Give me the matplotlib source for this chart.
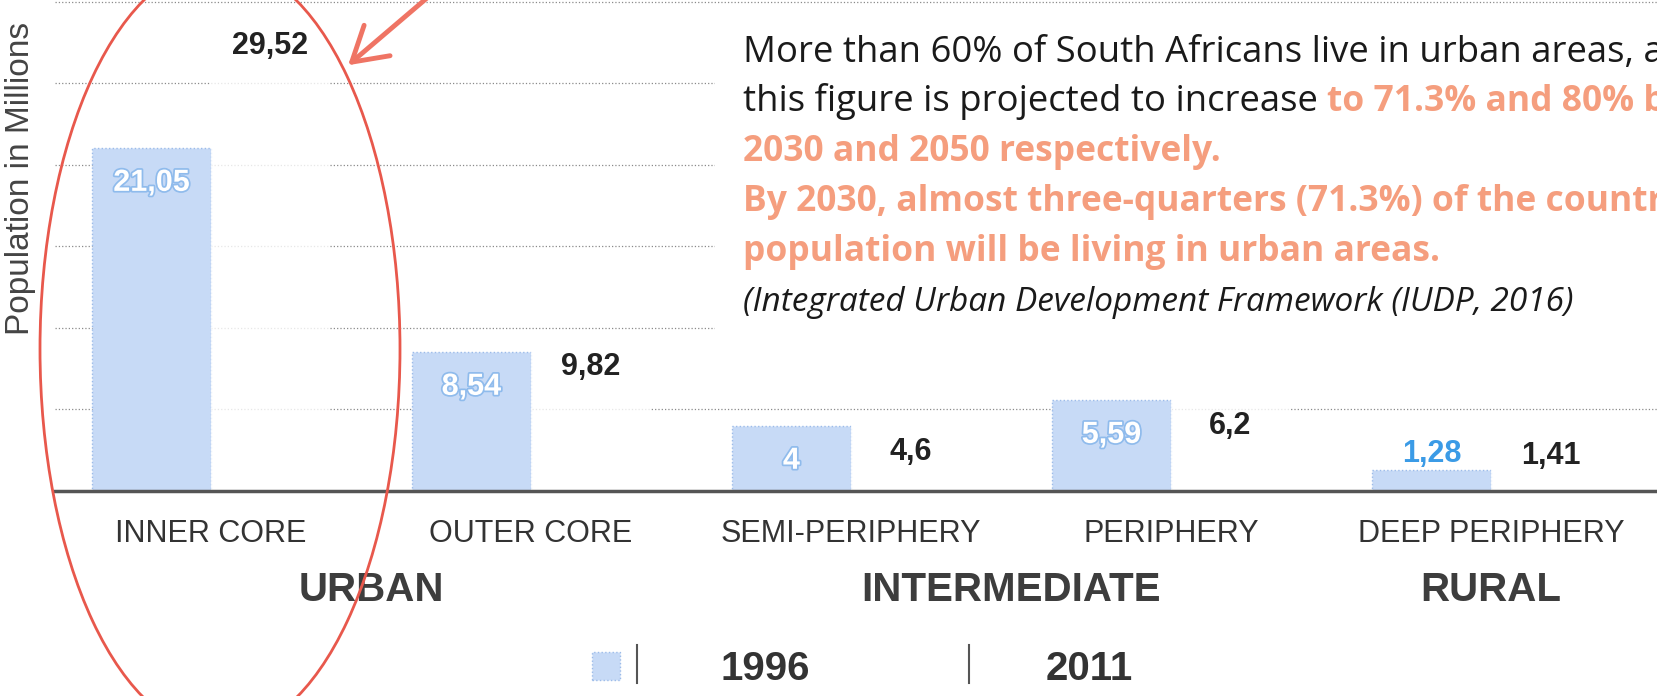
import matplotlib
matplotlib.use("Agg")
import matplotlib.pyplot as plt
import matplotlib.patheffects as pe
from matplotlib.patches import Ellipse, Rectangle, FancyArrowPatch
from matplotlib.lines import Line2D
from matplotlib.transforms import blended_transform_factory

categories = ['INNER CORE', 'OUTER CORE', 'SEMI-PERIPHERY', 'PERIPHERY', 'DEEP PERIPHERY']
pop_1996 = [21.05, 8.54, 4, 5.59, 1.28]
pop_2011 = [29.52, 9.82, 4.6, 6.2, 1.41]
years = ['1996', '2011']
zones = ['URBAN', 'INTERMEDIATE', 'RURAL']
zone_x = [0.5, 2.5, 4]

BLUE = '#c7daf6'
SALMON = '#f59e7e'
W, H = 1657, 696


def fx(px):
    return px / W


def fy(py):
    return 1 - py / H


def fmt(v):
    return f"{v:g}".replace('.', ',')


plt.rcParams['font.family'] = ['Liberation Sans', 'DejaVu Sans']

fig = plt.figure(figsize=(W / 100, H / 100), dpi=100)
ax = fig.add_axes([fx(55), fy(491), 1 - fx(55), 491 / H])

x = list(range(len(categories)))
width = 0.372
bars96 = ax.bar([i - width / 2 for i in x], pop_1996, width, color=BLUE,
                edgecolor='#9cbbe9', linestyle=':', linewidth=1, zorder=3)
# the 2011 bars are blank in the original, only their labels show
bars11 = ax.bar([i + width / 2 for i in x], pop_2011, width, color='white', alpha=0.8,
                edgecolor='none', zorder=3)

ax.set_xlim(-0.4875, 4.519)
ax.set_ylim(0, 30.12)
ax.set_yticks([5, 10, 15, 20, 25, 30])
ax.yaxis.grid(True, color='#8a8a8a', linestyle=':', linewidth=0.9, zorder=1)
ax.tick_params(axis='y', left=False, labelleft=False)
ax.set_xticks(x, categories)
ax.tick_params(axis='x', length=0, pad=20, labelsize=22, labelcolor='#333333')
for s in ['top', 'left', 'right']:
    ax.spines[s].set_visible(False)
ax.spines['bottom'].set_color('#555555')
ax.spines['bottom'].set_linewidth(2.5)
ax.spines['bottom'].set_zorder(4)

# value labels
for i, v in enumerate(pop_1996):
    if v >= 2:
        ax.annotate(fmt(v), (i - width / 2, v), xytext=(0, -35), textcoords='offset pixels',
                    ha='center', va='center', fontsize=22, fontweight='bold', color='white',
                    path_effects=[pe.withStroke(linewidth=2.5, foreground='#8fbbec')], zorder=5)
    else:
        ax.annotate(fmt(v), (i - width / 2, v), xytext=(0, 16), textcoords='offset pixels',
                    ha='center', va='center', fontsize=22, fontweight='bold', color='#3b9be6',
                    zorder=5)
for i, v in enumerate(pop_2011):
    off = -36 if v >= 2 else 12
    ax.annotate(fmt(v), (i + width / 2, v), xytext=(0, off), textcoords='offset pixels',
                ha='center', va='center', fontsize=22, fontweight='bold', color='#222222',
                zorder=5)

ax.set_ylabel('Population in Millions', fontsize=24, color='#444444')
ax.yaxis.set_label_coords((36 - 55) / (W - 55), 0.637)

trans = blended_transform_factory(ax.transData, fig.transFigure)
for name, zx in zip(zones, zone_x):
    ax.text(zx, fy(590), name, transform=trans, ha='center', va='center',
            fontsize=29, fontweight='bold', color='#3d3d3d', clip_on=False)

# legend
fig.legend([bars96, bars11], years, ncol=2, loc='center', frameon=False,
           bbox_to_anchor=(fx(862), fy(669)), handlelength=0.7, handleheight=0.7,
           handletextpad=2.5, columnspacing=2.64,
           prop={'size': 29, 'weight': 'bold'}, labelcolor='#333333')
for lx in [637, 969]:
    fig.add_artist(Line2D([fx(lx), fx(lx)], [fy(645), fy(683)], color='#555555', lw=1.5))

# text block over the chart
fig.add_artist(Rectangle((fx(715), fy(345)), 1 - fx(715), (345 - 18) / H,
                         transform=fig.transFigure, facecolor='white', edgecolor='none', zorder=2))
tfont = ['Open Sans', 'DejaVu Sans']
tx = fx(743)
fs = 25.5
fig.text(tx, fy(62), 'More than 60% of South Africans live in urban areas, and',
         fontsize=26.3, family=tfont, color='#1a1a1a', va='baseline', zorder=3)
t2 = fig.text(tx, fy(111), 'this figure is projected to increase ',
              fontsize=26.3, family=tfont, color='#1a1a1a', va='baseline', zorder=3)
fig.add_artist(plt.Annotation('to 71.3% and 80% by', xy=(1, 0), xycoords=t2, va='bottom',
                              fontsize=fs, family=tfont, fontweight='bold', color=SALMON, zorder=3))
fig.text(tx, fy(161), '2030 and 2050 respectively.', fontsize=fs, family=tfont,
         fontweight='bold', color=SALMON, va='baseline', zorder=3)
fig.text(tx, fy(211), "By 2030, almost three-quarters (71.3%) of the country's", fontsize=fs,
         family=tfont, fontweight='bold', color=SALMON, va='baseline', zorder=3)
fig.text(tx, fy(261), 'population will be living in urban areas.', fontsize=fs, family=tfont,
         fontweight='bold', color=SALMON, va='baseline', zorder=3)
fig.text(tx, fy(311), '(Integrated Urban Development Framework (IUDP, 2016)', fontsize=24,
         family=tfont, style='italic', color='#1a1a1a', va='baseline', zorder=3)

# red highlight around the urban core
fig.add_artist(Ellipse((fx(220), fy(349)), 360 / W, 770 / H, transform=fig.transFigure,
                       fill=False, edgecolor='#e8584c', linewidth=2, zorder=6))
fig.add_artist(FancyArrowPatch((fx(434), fy(-8)), (fx(346), fy(67)), transform=fig.transFigure,
                               arrowstyle='->,head_length=1.0,head_width=0.6', mutation_scale=24,
                               color='#ef7464', linewidth=3.5, zorder=6))

fig.savefig('out.png', dpi=100)
